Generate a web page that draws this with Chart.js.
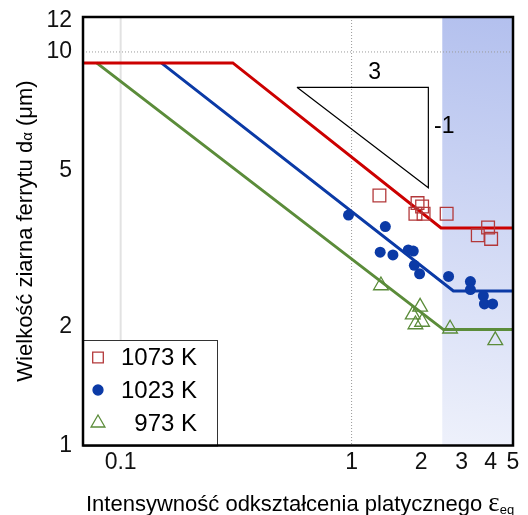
<!DOCTYPE html>
<html>
<head>
<meta charset="utf-8">
<script src="https://cdn.jsdelivr.net/npm/chart.js@4"></script>
<style>
  html, body { margin: 0; padding: 0; background: #fff; }
  #wrap { position: relative; width: 528px; height: 515px; }
</style>
</head>
<body>
<div id="wrap"><canvas id="grainChart"></canvas></div>
<script>
// tick labels
const xTicks = [0.1, 1, 2, 3, 4, 5];
const yTicks = [1, 2, 5, 10, 12];

// measured points: strain eps_eq, ferrite grain size d (um)
const eps1073 = [1.32, 1.93, 2.02, 1.89, 2.05, 2.58, 3.52, 3.90, 4.02];
const d1073   = [4.32, 4.13, 4.05, 3.88, 3.88, 3.88, 3.42, 3.58, 3.35];

const eps1023 = [0.97, 1.40, 1.33, 1.51, 1.76, 1.85, 1.87, 1.97, 2.63, 3.27, 3.27, 3.72, 3.76, 4.08];
const d1023   = [3.85, 3.60, 3.10, 3.05, 3.14, 3.12, 2.87, 2.73, 2.69, 2.61, 2.49, 2.40, 2.29, 2.29];

const eps973 = [1.34, 1.98, 1.84, 1.89, 2.02, 2.67, 4.19];
const d973   = [2.55, 2.25, 2.15, 2.03, 2.06, 1.98, 1.85];

// fitted trend lines
const fit1073X = [0.06, 0.306, 2.44, 6];
const fit1073Y = [9.38, 9.38, 3.57, 3.57];
const fit1023X = [0.150, 2.76, 6];
const fit1023Y = [9.38, 2.47, 2.47];
const fit973X  = [0.0787, 2.50, 6];
const fit973Y  = [9.38, 1.97, 1.97];

// slope triangle
const triX = [0.58, 2.15, 2.15, 0.58];
const triY = [8.13, 8.13, 4.52, 8.13];

const shadeFrom = 2.47;   // start of the shaded strain range

const zip = (xs, ys) => xs.map((x, i) => ({ x: x, y: ys[i] }));

const RED = '#cc0000', RED_MK = '#b3383a';
const BLUE = '#0b3aa6';
const GREEN = '#5b8c3a';
const FONT = "'Liberation Sans', Arial, sans-serif";

// draws text made of pieces with their own font / vertical offset
function drawPieces(ctx, pieces, x, y) {
  let cx = x;
  pieces.forEach(p => {
    ctx.font = p.font;
    ctx.fillText(p.text, cx, y + (p.dy || 0));
    cx += ctx.measureText(p.text).width;
  });
}
function piecesWidth(ctx, pieces) {
  let w = 0;
  pieces.forEach(p => { ctx.font = p.font; w += ctx.measureText(p.text).width; });
  return w;
}

const decorPlugin = {
  id: 'decor',
  beforeDatasetsDraw(chart) {
    const { ctx, chartArea: a, scales: { x, y } } = chart;
    ctx.save();
    // shaded band
    const sx = x.getPixelForValue(shadeFrom);
    const g = ctx.createLinearGradient(sx, a.bottom, a.right, a.top);
    g.addColorStop(0, '#eef1fb');
    g.addColorStop(1, '#b3c0ee');
    ctx.fillStyle = g;
    ctx.fillRect(sx, a.top, a.right - sx, a.bottom - a.top);

    // grid lines
    const px01 = x.getPixelForValue(0.1);
    ctx.strokeStyle = '#e2e2e2';
    ctx.lineWidth = 2;
    ctx.beginPath(); ctx.moveTo(px01, a.top); ctx.lineTo(px01, a.bottom); ctx.stroke();

    ctx.strokeStyle = '#9a9a9a';
    ctx.lineWidth = 1;
    ctx.setLineDash([1, 2]);
    const px1 = x.getPixelForValue(1);
    ctx.beginPath(); ctx.moveTo(px1, a.top); ctx.lineTo(px1, a.bottom); ctx.stroke();
    const py10 = y.getPixelForValue(10);
    ctx.beginPath(); ctx.moveTo(a.left, py10); ctx.lineTo(a.right, py10); ctx.stroke();
    ctx.restore();
  },
  afterDatasetsDraw(chart) {
    const { ctx, chartArea: a, scales: { x, y } } = chart;
    ctx.save();
    // slope labels
    ctx.fillStyle = '#000';
    ctx.font = '23px ' + FONT;
    ctx.textAlign = 'center';
    ctx.textBaseline = 'middle';
    ctx.fillText('3', x.getPixelForValue(1.257), y.getPixelForValue(8.86));
    ctx.fillText('-1', x.getPixelForValue(2.52), y.getPixelForValue(6.46));

    // legend box
    const lx = a.left, ly = 340, lw = 134, lh = a.bottom - 340;
    ctx.fillStyle = '#fff';
    ctx.fillRect(lx, ly, lw, lh);
    ctx.strokeStyle = '#333';
    ctx.lineWidth = 1;
    ctx.strokeRect(lx + 0.5, ly + 0.5, lw, lh);

    const rows = [
      { label: '1073 K', style: 'rect', r: 7.5, stroke: RED_MK, fill: 'rgba(0,0,0,0)', y: 357.5 },
      { label: '1023 K', style: 'circle', r: 5, stroke: BLUE, fill: BLUE, y: 390 },
      { label: '973 K', style: 'triangle', r: 8, stroke: GREEN, fill: 'rgba(0,0,0,0)', y: 423 }
    ];
    rows.forEach(row => {
      ctx.fillStyle = row.fill;
      ctx.strokeStyle = row.stroke;
      ctx.lineWidth = 1.3;
      Chart.helpers.drawPoint(ctx, { pointStyle: row.style, radius: row.r, borderWidth: 1.3, rotation: 0 }, lx + 15, row.y);
      ctx.fillStyle = '#000';
      ctx.font = '24px ' + FONT;
      ctx.textAlign = 'right';
      ctx.textBaseline = 'middle';
      ctx.fillText(row.label, lx + 114, row.y + 1);
    });

    // plot frame
    ctx.strokeStyle = '#000';
    ctx.lineWidth = 2.5;
    ctx.strokeRect(a.left, a.top, a.right - a.left, a.bottom - a.top);
    ctx.restore();
  },
  afterDraw(chart) {
    const { ctx } = chart;
    ctx.save();
    ctx.fillStyle = '#000';
    ctx.textBaseline = 'alphabetic';
    ctx.textAlign = 'left';
    // x axis title
    drawPieces(ctx, [
      { text: 'Intensywność odkształcenia platycznego ', font: '22px ' + FONT },
      { text: 'ε', font: "27px 'Liberation Serif', serif" },
      { text: 'eq', font: '13px ' + FONT, dy: 3 }
    ], 86, 511);

    // y axis title
    const yPieces = [
      { text: 'Wielkość ziarna ferrytu d', font: '22px ' + FONT },
      { text: 'α', font: '15px ' + FONT },
      { text: ' (μm)', font: '22px ' + FONT }
    ];
    const w = piecesWidth(ctx, yPieces);
    ctx.translate(32, 231);
    ctx.rotate(-Math.PI / 2);
    drawPieces(ctx, yPieces, -w / 2, 0);
    ctx.restore();
  }
};

new Chart(document.getElementById('grainChart'), {
  type: 'scatter',
  data: {
    datasets: [
      { label: '1073 K', data: zip(eps1073, d1073), pointStyle: 'rect', pointRadius: 9,
        borderColor: RED_MK, backgroundColor: 'rgba(0,0,0,0)', borderWidth: 1.3, order: 0 },
      { label: '1023 K', data: zip(eps1023, d1023), pointStyle: 'circle', pointRadius: 5.5,
        borderColor: BLUE, backgroundColor: BLUE, borderWidth: 0, order: 0 },
      { label: '973 K', data: zip(eps973, d973), pointStyle: 'triangle', pointRadius: 8.5,
        borderColor: GREEN, backgroundColor: 'rgba(0,0,0,0)', borderWidth: 1.3, order: 0 },
      { data: zip(fit1073X, fit1073Y), showLine: true, pointRadius: 0, borderColor: RED, borderWidth: 3, order: 1 },
      { data: zip(fit1023X, fit1023Y), showLine: true, pointRadius: 0, borderColor: BLUE, borderWidth: 3, order: 1 },
      { data: zip(fit973X, fit973Y), showLine: true, pointRadius: 0, borderColor: GREEN, borderWidth: 3, order: 1 },
      { data: zip(triX, triY), showLine: true, pointRadius: 0, borderColor: '#000', borderWidth: 1.2, order: 1 }
    ]
  },
  options: {
    responsive: true,
    maintainAspectRatio: false,
    animation: false,
    layout: { padding: { left: 0, right: 15, top: 17, bottom: 0 } },
    plugins: { legend: { display: false }, tooltip: { enabled: false } },
    scales: {
      x: {
        type: 'logarithmic', min: 0.0687, max: 5,
        grid: { display: false, drawTicks: false },
        border: { display: false },
        afterBuildTicks: s => { s.ticks = xTicks.map(v => ({ value: v })); },
        afterFit: s => { s.height = 69.5; s.paddingLeft = 0; s.paddingRight = 0; },
        ticks: { color: '#111', font: { family: FONT, size: 23 }, padding: 3, maxRotation: 0, autoSkip: false,
                 callback: v => String(v) }
      },
      y: {
        type: 'logarithmic', min: 1, max: 12.27,
        grid: { display: false, drawTicks: false },
        border: { display: false },
        afterBuildTicks: s => { s.ticks = yTicks.map(v => ({ value: v })); },
        afterFit: s => { s.width = 83; s.paddingTop = 0; s.paddingBottom = 0; },
        ticks: { color: '#111', font: { family: FONT, size: 23 }, padding: 11, autoSkip: false,
                 callback: v => String(v) }
      }
    }
  },
  plugins: [decorPlugin]
});
</script>
</body>
</html>
